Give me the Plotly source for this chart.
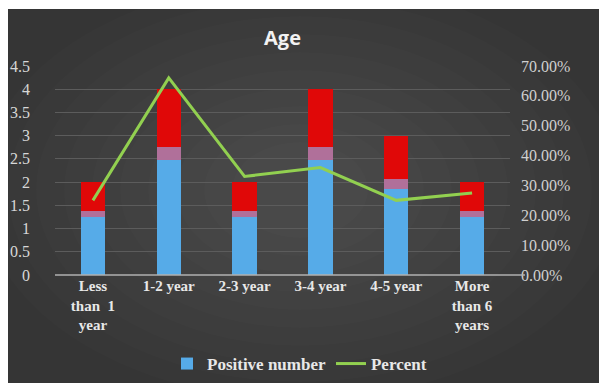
import plotly.graph_objects as go

categories = ["Less<br>than  1<br>year", "1-2 year", "2-3 year", "3-4 year", "4-5 year", "More<br>than 6<br>years"]
positive_number = [2, 4, 2, 4, 3, 2]
percent = [0.25, 0.66, 0.33, 0.36, 0.25, 0.275]
left_ticks = [0, 0.5, 1, 1.5, 2, 2.5, 3, 3.5, 4, 4.5]
left_tick_text = ["0", "0.5", "1", "1.5", "2", "2.5", "3", "3.5", "4", "4.5"]

# gradient stops of the bar fill (fractions of each bar)
blue_stop, mid_stop = 0.62, 0.69
blue_part = [v * blue_stop for v in positive_number]
mid_part = [v * (mid_stop - blue_stop) for v in positive_number]
red_part = [v * (1 - mid_stop) for v in positive_number]

serif = "Liberation Serif"

fig = go.Figure()
fig.add_trace(go.Bar(x=categories, y=blue_part, name="<b>Positive number</b>", marker_color="#56abe8",
                     marker_line_width=0, width=0.32, showlegend=True, legendrank=1, hoverinfo="skip"))
fig.add_trace(go.Bar(x=categories, y=mid_part, name="mid", marker_color="#b0709a",
                     marker_line_width=0, width=0.32, showlegend=False, hoverinfo="skip"))
fig.add_trace(go.Bar(x=categories, y=red_part, name="Positive number red", marker_color="#e00808",
                     marker_line_width=0, width=0.32, showlegend=False,
                     customdata=positive_number, hovertemplate="%{customdata}<extra></extra>"))
fig.add_trace(go.Scatter(x=categories, y=percent, name="<b>Percent</b>", mode="lines", yaxis="y2",
                         line=dict(color="#92d050", width=3), legendrank=2))

# plot area in pixels: x 55..510, y 66..275
L, R, T, B = 55, 510, 66, 275
W, H = 599, 383
pw, ph = R - L, B - T
def px(x):
    return (x - L) / pw
def py(y):
    return (B - y) / ph

shapes = [dict(type="rect", xref="paper", yref="paper", x0=px(8), x1=px(W + 5), y0=py(H + 5), y1=py(9),
               fillcolor="#353535", line_width=0, layer="below")]
cx, cy = 300, 190
for k in range(10):
    dx = 320 - k * 28
    dy = 210 - k * 18
    shapes.append(dict(type="circle", xref="paper", yref="paper", x0=px(cx - dx), x1=px(cx + dx),
                       y0=py(cy + dy), y1=py(cy - dy), fillcolor="rgba(255,255,255,0.012)",
                       line_width=0, layer="below"))
shapes.append(dict(type="line", xref="paper", yref="paper", x0=0, x1=px(525), y0=0, y1=0,
                   line=dict(color="#b0b0b0", width=1.5), layer="above"))

fig.update_layout(
    width=W, height=H,
    margin=dict(l=L, r=W - R, t=T, b=H - B, autoexpand=False),
    paper_bgcolor="white",
    plot_bgcolor="rgba(0,0,0,0)",
    barmode="stack",
    shapes=shapes,
    font=dict(family=serif),
    title=dict(text="<b>Age</b>", x=0.5, xref="paper", xanchor="center", y=1 - 38 / H, yanchor="middle",
               font=dict(family="Open Sans", size=20, color="#f2f2f2")),
    xaxis=dict(showgrid=False, showline=False, zeroline=False, ticks="", automargin=False,
               tickfont=dict(family=serif, size=15, color="#e8e8e8", weight="bold"), tickangle=0),
    yaxis=dict(range=[0, 4.5], tickvals=left_ticks, ticktext=left_tick_text, showgrid=True,
               gridcolor="#5c5c5c", gridwidth=1, zeroline=False, showline=False, automargin=False,
               ticklabelstandoff=24,
               tickfont=dict(family=serif, size=16, color="#d8d8d8")),
    yaxis2=dict(range=[0, 0.7], dtick=0.1, tickformat=".2%", overlaying="y", side="right",
                showgrid=False, zeroline=False, showline=False, ticklabelstandoff=10, automargin=False,
                tickfont=dict(family=serif, size=16, color="#d0d0d0")),
    legend=dict(orientation="h", x=0.5, xref="container", xanchor="center",
                y=1 - 364 / H, yref="container", yanchor="middle",
                font=dict(family=serif, size=17, color="#e8e8e8"),
                bgcolor="rgba(0,0,0,0)", traceorder="normal"),
    showlegend=True,
)

fig.write_html("out.html")
